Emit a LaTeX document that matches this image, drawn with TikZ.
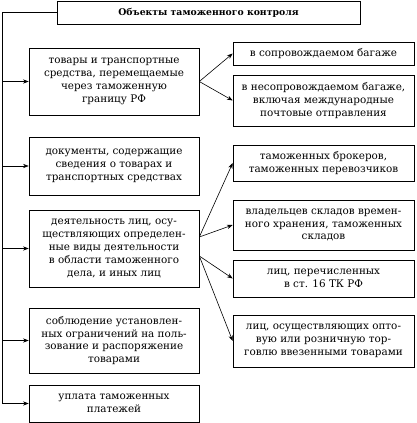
\documentclass[tikz,border=0pt]{standalone}
\usepackage{fontspec}
\setmainfont{DejaVu Serif}
\usetikzlibrary{arrows.meta, positioning}

\begin{document}
\begin{tikzpicture}[
    x=1pt, y=-1pt,
    >=Stealth,
    line width=0.6pt,
    % Boxes: plain rectangles, black outline, centred text
    boxStyle/.style={
        draw,
        align=center,
        font=\fontsize{10.4}{12.8}\selectfont,
        inner sep=0pt,
        fill=white
    },
    leftBox/.style={boxStyle, minimum width=170pt},
    rightBox/.style={boxStyle, minimum width=181pt},
    % Title box: bold text
    titleStyle/.style={
        boxStyle,
        font=\fontsize{9.3}{12}\selectfont\bfseries,
        minimum width=303pt,
        minimum height=23pt
    }
]
\useasboundingbox (0,0) rectangle (416,423);

%--- Title ---
\node[titleStyle] (title) at (208.5,12.5) {Объекты таможенного контроля};

%--- Left column ---
\node[leftBox, minimum height=67pt] (tovary)   at (114,81.5)
  {товары и транспортные\\средства, перемещаемые\\через таможенную\\границу РФ};
\node[leftBox, minimum height=58pt] (dokum)    at (114,166)
  {документы, содержащие\\сведения о товарах и\\транспортных средствах};
\node[leftBox, minimum height=77pt] (dejat)    at (114,248.5)
  {деятельность лиц, осу-\\ществляющих определен-\\ные виды деятельности\\в области таможенного\\дела, и иных лиц};
\node[leftBox, minimum height=65pt] (sobl)     at (114,340.5)
  {соблюдение установлен-\\ных ограничений на поль-\\зование и распоряжение\\товарами};
\node[leftBox, minimum height=37pt] (uplata)   at (114,403.5)
  {уплата таможенных\\платежей};

%--- Right column ---
\node[rightBox, minimum height=23pt] (soprov)   at (323.5,53.5)
  {в сопровождаемом багаже};
\node[rightBox, minimum height=51pt] (nesoprov) at (323.5,100.5)
  {в несопровождаемом багаже,\\включая международные\\почтовые отправления};
\node[rightBox, minimum height=36pt] (broker)   at (323.5,163)
  {таможенных брокеров,\\таможенных перевозчиков};
\node[rightBox, minimum height=50pt] (sklad)    at (323.5,225)
  {владельцев складов времен-\\ного хранения, таможенных\\складов};
\node[rightBox, minimum height=37pt] (st16)     at (323.5,278.5)
  {лиц, перечисленных\\в ст. 16 ТК РФ};
\node[rightBox, minimum height=52pt] (torg)     at (323.5,341)
  {лиц, осуществляющих опто-\\вую или розничную тор-\\говлю ввезенными товарами};

%-----------------------
%        Edges
%-----------------------
\coordinate (trunk) at (2,0);

% (1) Title -> trunk on the left
\draw (title.west) -| (trunk |- uplata.west);

% (2) Trunk -> left boxes
\draw[->] (trunk |- tovary.west) -- (tovary.west);
\draw[->] (trunk |- dokum.west)  -- (dokum.west);
\draw[->] (trunk |- dejat.west)  -- (dejat.west);
\draw[->] (trunk |- sobl.west)   -- (sobl.west);
\draw[->] (trunk |- uplata.west) -- (uplata.west);

% (3) Goods -> baggage
\draw[->] (tovary.east) -- (soprov.west);
\draw[->] (tovary.east) -- (nesoprov.west);

% (4) Activity -> persons
\draw[->] ([yshift=11.5pt]dejat.east) -- (broker.west);
\draw[->] ([yshift=11.5pt]dejat.east) -- (sklad.west);
\draw[->] ([yshift=-7.5pt]dejat.east) -- (st16.west);
\draw[->] ([yshift=-7.5pt]dejat.east) -- (torg.west);
\end{tikzpicture}
\end{document}
